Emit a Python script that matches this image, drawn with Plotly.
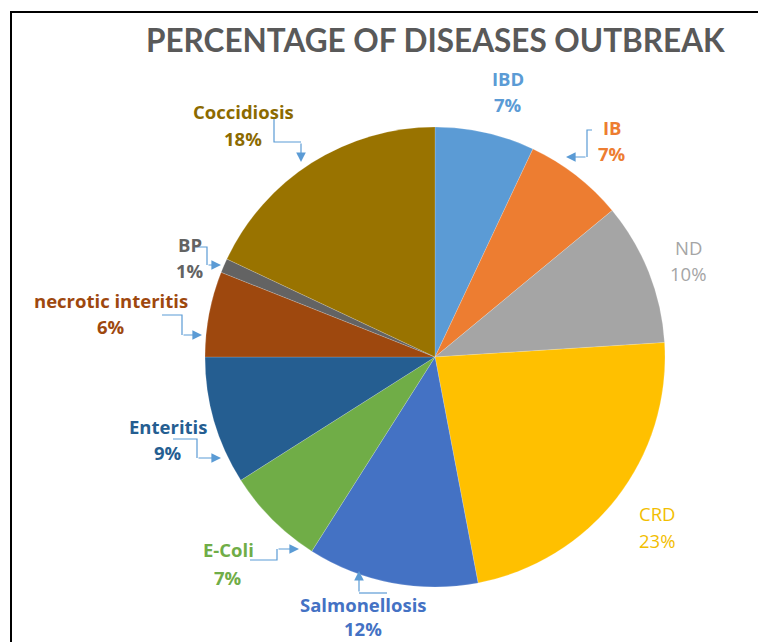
import plotly.graph_objects as go

# ---- data ----
diseases = ["IBD", "IB", "ND", "CRD", "Salmonellosis", "E-Coli", "Enteritis",
            "necrotic interitis", "BP", "Coccidiosis"]
percentages = [7, 7, 10, 23, 12, 7, 9, 6, 1, 18]
slice_colors = ["#5B9BD5", "#ED7D31", "#A5A5A5", "#FFC000", "#4472C4", "#70AD47",
                "#255E91", "#9E480E", "#636363", "#997300"]
text_colors = ["#5B9BD5", "#ED7D31", "#A5A5A5", "#F2BE00", "#4472C4", "#70AD47",
               "#255E91", "#9E480E", "#636363", "#8C6A00"]
bold_labels = [True, True, False, False, True, True, True, True, True, True]
title_text = "PERCENTAGE OF DISEASES OUTBREAK"

W, H = 758, 642
TITLE_FONT = "Lato"
LABEL_FONT = "Open Sans"

# label layout (pixel positions: name line, percent line)
label_pos = {
    "IBD": (508, 78, 104),
    "IB": (612, 127, 153),
    "ND": (688, 247, 273),
    "CRD": (657, 513, 540),
    "Salmonellosis": (363, 604, 628),
    "E-Coli": (228, 549, 577),
    "Enteritis": (168, 426, 452),
    "necrotic interitis": (111, 300, 326),
    "BP": (190, 244, 270),
    "Coccidiosis": (243, 111, 138),
}
# leader lines: polyline points, last segment ends in an arrow
leaders = {
    "Coccidiosis": [(274, 118), (274, 142), (301, 142), (301, 162)],
    "BP": [(195, 247), (207, 247), (207, 265), (221, 265)],
    "IB": [(592, 130), (587, 130), (587, 157), (566, 157)],
    "necrotic interitis": [(162, 315), (182, 315), (182, 335), (202, 335)],
    "Enteritis": [(173, 439), (197, 439), (197, 458), (221, 458)],
    "E-Coli": [(250, 560), (277, 560), (277, 549), (299, 549)],
    "Salmonellosis": [(387, 593), (359, 593), (359, 571)],
}
LEADER_COLOR = "#5B9BD5"

cx, cy, r = 435, 357, 230

fig = go.Figure()
fig.add_trace(go.Pie(
    labels=diseases, values=percentages, sort=False, direction="clockwise",
    rotation=0, textinfo="none", hoverinfo="label+percent",
    marker=dict(colors=slice_colors, line=dict(color="rgba(255,255,255,0.35)", width=0.5)),
    domain=dict(x=[(cx - r) / W, (cx + r) / W], y=[1 - (cy + r) / H, 1 - (cy - r) / H]),
    showlegend=False,
))

annotations = []
shapes = []
annotations.append(dict(
    x=435, y=40, xref="x", yref="y", text="<b>" + title_text + "</b>", showarrow=False,
    font=dict(family=TITLE_FONT, size=31.5, color="#595959"), xanchor="center", yanchor="middle"))

for name, val, col, bold in zip(diseases, percentages, text_colors, bold_labels):
    x, y1, y2 = label_pos[name]
    for txt, yy in ((name, y1), (f"{val}%", y2)):
        t = f"<b>{txt}</b>" if bold else txt
        annotations.append(dict(
            x=x, y=yy, xref="x", yref="y", text=t, showarrow=False,
            font=dict(family=LABEL_FONT, size=18.5, color=col), xanchor="center", yanchor="middle"))

for name, pts in leaders.items():
    path = "M " + " L ".join(f"{px},{py}" for px, py in pts[:-1])
    shapes.append(dict(type="path", path=path, xref="x", yref="y",
                       line=dict(color=LEADER_COLOR, width=1.2), layer="above"))
    (ax, ay), (tx, ty) = pts[-2], pts[-1]
    annotations.append(dict(
        x=tx, y=ty, ax=ax, ay=ay, xref="x", yref="y", axref="x", ayref="y",
        text="", showarrow=True, arrowhead=2, arrowsize=1.6, arrowwidth=1.2,
        arrowcolor=LEADER_COLOR, standoff=0))

# frame lines (top and left)
shapes.append(dict(type="line", x0=10, x1=W, y0=12, y1=12, xref="x", yref="y",
                   line=dict(color="black", width=2)))
shapes.append(dict(type="line", x0=11, x1=11, y0=12, y1=H, xref="x", yref="y",
                   line=dict(color="black", width=2)))

fig.update_layout(
    width=W, height=H, margin=dict(l=0, r=0, t=0, b=0),
    paper_bgcolor="white", plot_bgcolor="rgba(0,0,0,0)",
    xaxis=dict(range=[0, W], visible=False, fixedrange=True),
    yaxis=dict(range=[H, 0], visible=False, fixedrange=True),
    annotations=annotations, shapes=shapes,
)

fig.write_html("out.html")
